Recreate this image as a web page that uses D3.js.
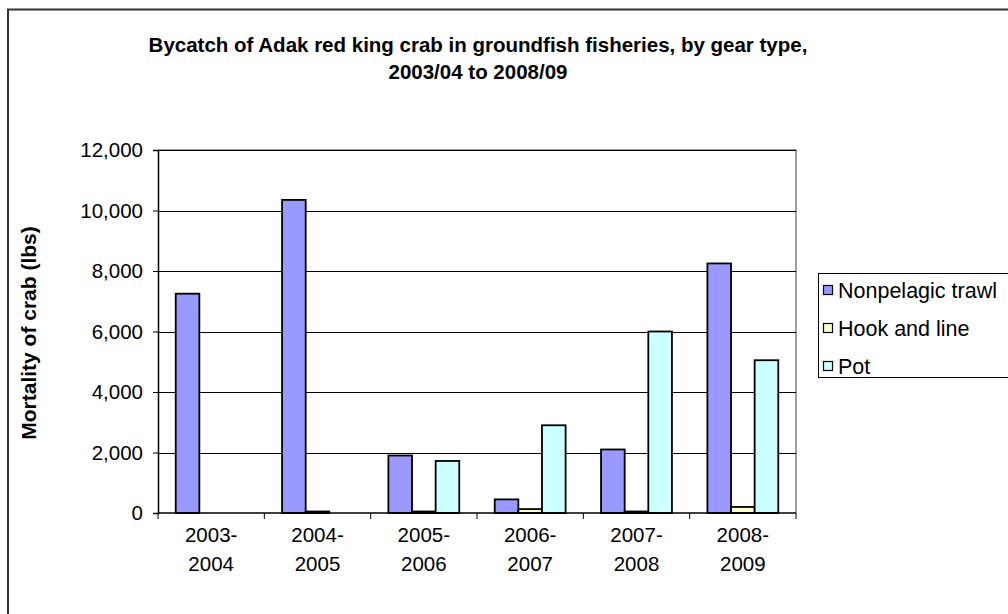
<!DOCTYPE html>
<html><head><meta charset="utf-8">
<script src="https://cdn.jsdelivr.net/npm/d3@7"></script>
<style>body{margin:0;background:#fff}svg{display:block}text{font-family:"Liberation Sans",Arial,sans-serif}</style>
</head><body>
<svg id="c" width="1008" height="614"></svg>
<script>
const categories = [["2003-","2004"],["2004-","2005"],["2005-","2006"],["2006-","2007"],["2007-","2008"],["2008-","2009"]];
const seriesNames = ["Nonpelagic trawl","Hook and line","Pot"];
const trawl = [7250, 10350, 1900, 450, 2100, 8250];
const hookLine = [0, 50, 50, 130, 50, 200];
const pot = [0, 0, 1720, 2900, 6000, 5050];
const yTicks = [0, 2000, 4000, 6000, 8000, 10000, 12000];
const titleLines = ["Bycatch of Adak red king crab in groundfish fisheries, by gear type,", "2003/04 to 2008/09"];
const yTitle = "Mortality of crab (lbs)";
const colors = ["#9999FF", "#FFFFCC", "#CCFFFF"];

const series = [trawl, hookLine, pot];
const svg = d3.select("#c");
const L = 158, R = 796, T = 150, B = 513;

svg.append("rect").attr("x", 8).attr("y", 9.5).attr("width", 1020).attr("height", 640)
  .attr("fill", "#fff").attr("stroke", "#333").attr("stroke-width", 2);

const x0 = d3.scaleBand().domain(d3.range(categories.length)).range([L, R]).paddingInner(0).paddingOuter(0);
const groupW = x0.bandwidth() * 3 / 4.5;
const x1 = d3.scaleBand().domain(d3.range(3)).range([0, groupW]).padding(0);
const y = d3.scaleLinear().domain([0, 12000]).range([B, T]);

svg.append("path").attr("d", `M${L},${T}H${R}V${B}`).attr("fill", "none").attr("stroke", "#808080").attr("stroke-width", 1.5);

svg.append("g").selectAll("line").data(yTicks.filter(d => d > 0)).join("line")
  .attr("x1", L).attr("x2", R).attr("y1", d => Math.round(y(d)) + 0.5).attr("y2", d => Math.round(y(d)) + 0.5)
  .attr("stroke", "#000").attr("stroke-width", 1);

const g = svg.append("g");
series.forEach((vals, si) => {
  g.selectAll(null).data(vals).join("rect")
    .attr("x", (d, i) => x0(i) + (x0.bandwidth() - groupW) / 2 + x1(si))
    .attr("y", d => y(d))
    .attr("width", x1.bandwidth())
    .attr("height", d => B - y(d))
    .attr("fill", colors[si]).attr("stroke", "#000").attr("stroke-width", 1.8);
});

const yAxis = d3.axisLeft(y).tickValues(yTicks).tickSize(5).tickPadding(10).tickFormat(d3.format(","));
const ya = svg.append("g").attr("transform", `translate(${L},0)`).call(yAxis);
ya.select(".domain").attr("stroke", "#000").attr("stroke-width", 1.5);
ya.selectAll(".tick line").attr("stroke", "#000");
ya.selectAll("text").attr("font-size", 20.5).attr("fill", "#000").style("font-family", "Liberation Sans, Arial");

const xa = svg.append("g").attr("transform", `translate(0,${B})`);
xa.append("line").attr("x1", L).attr("x2", R).attr("y1", 0).attr("y2", 0).attr("stroke", "#000").attr("stroke-width", 1.5);
xa.selectAll("line.tk").data(d3.range(categories.length + 1)).join("line").attr("class", "tk")
  .attr("x1", i => L + i * x0.step()).attr("x2", i => L + i * x0.step()).attr("y1", 0).attr("y2", 6).attr("stroke", "#000");
xa.selectAll("text").data(categories).join("text")
  .attr("x", (d, i) => x0(i) + x0.bandwidth() / 2).attr("y", 29)
  .attr("text-anchor", "middle").attr("font-size", 20.5)
  .selectAll("tspan").data(d => d).join("tspan")
  .attr("x", function() { return this.parentNode.getAttribute("x"); })
  .attr("dy", (d, i) => i === 0 ? 0 : 29).text(d => d);

svg.append("text").attr("x", 478).attr("y", 52).attr("text-anchor", "middle").attr("font-size", 20.5).attr("font-weight", "bold")
  .selectAll("tspan").data(titleLines).join("tspan").attr("x", 478).attr("dy", (d, i) => i ? 27 : 0).text(d => d);

svg.append("text").attr("transform", "translate(36,333) rotate(-90)").attr("text-anchor", "middle")
  .attr("font-size", 21).attr("font-weight", "bold").text(yTitle);

const lg = svg.append("g");
lg.append("rect").attr("x", 818.5).attr("y", 273.5).attr("width", 190).attr("height", 104).attr("fill", "#fff").attr("stroke", "#000");
seriesNames.forEach((n, i) => {
  const cy = 290 + i * 38;
  lg.append("rect").attr("x", 823.5).attr("y", cy - 4.5).attr("width", 9).attr("height", 9).attr("fill", colors[i]).attr("stroke", "#000").attr("stroke-width", 1.2);
  lg.append("text").attr("x", 838).attr("y", cy).attr("dy", "0.35em").attr("font-size", 21.5).text(n);
});
</script>
</body></html>
